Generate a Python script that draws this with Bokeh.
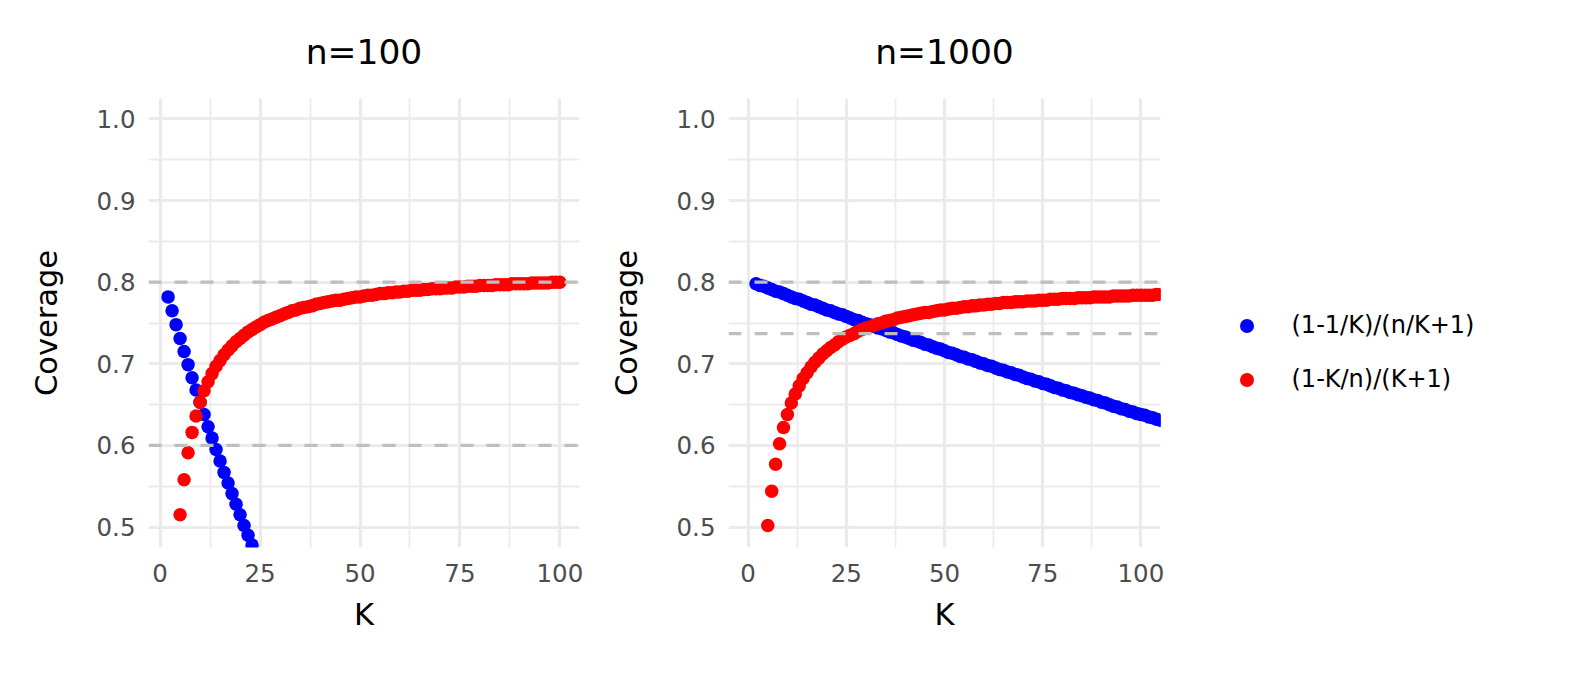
from bokeh.plotting import figure
from bokeh.layouts import row
from bokeh.models import (Range1d, FixedTicker, PrintfTickFormatter, Span,
                          Legend, LegendItem, ColumnDataSource)
from bokeh.embed import file_html
from bokeh.resources import INLINE

# ---------------- data ----------------
panel_titles = ["n=100", "n=1000"]
series_labels = ["(1-1/K)/(n/K+1)", "(1-K/n)/(K+1)"]
series_colors = ["#0000FF", "#FF0000"]

x_ticks = [0, 25, 50, 75, 100]
x_minor_ticks = [12.5, 37.5, 62.5, 87.5]
y_ticks = [0.5, 0.6, 0.7, 0.8, 0.9, 1.0]
y_minor_ticks = [0.55, 0.65, 0.75, 0.85, 0.95]

# n = 100
K_blue_100 = list(range(2, 26))
cov_blue_100 = [0.782, 0.765, 0.748, 0.731, 0.715, 0.699, 0.683, 0.668, 0.653, 0.638,
                0.623, 0.609, 0.595, 0.581, 0.567, 0.554, 0.541, 0.528, 0.515, 0.502,
                0.490, 0.478, 0.466, 0.454]

K_red_100 = list(range(4, 101))
cov_red_100 = [0.454, 0.515, 0.558, 0.591, 0.616, 0.636, 0.653, 0.667, 0.678, 0.688,
               0.697, 0.704, 0.711, 0.717, 0.722, 0.727, 0.731, 0.735, 0.739, 0.742,
               0.745, 0.748, 0.751, 0.753, 0.755, 0.757, 0.759, 0.761, 0.763, 0.765,
               0.766, 0.768, 0.769, 0.770, 0.771, 0.773, 0.774, 0.775, 0.776, 0.777,
               0.778, 0.778, 0.779, 0.780, 0.781, 0.782, 0.782, 0.783, 0.784, 0.784,
               0.785, 0.786, 0.786, 0.787, 0.787, 0.788, 0.788, 0.789, 0.789, 0.790,
               0.790, 0.790, 0.791, 0.791, 0.792, 0.792, 0.792, 0.793, 0.793, 0.793,
               0.794, 0.794, 0.794, 0.795, 0.795, 0.795, 0.796, 0.796, 0.796, 0.796,
               0.797, 0.797, 0.797, 0.797, 0.798, 0.798, 0.798, 0.798, 0.798, 0.799,
               0.799, 0.799, 0.799, 0.799, 0.800, 0.800, 0.800]

# n = 1000
K_blue_1000 = list(range(2, 108))
cov_blue_1000 = [0.798, 0.796, 0.795, 0.793, 0.791, 0.789, 0.788, 0.786, 0.784, 0.782,
                 0.780, 0.779, 0.777, 0.775, 0.773, 0.772, 0.770, 0.768, 0.766, 0.765,
                 0.763, 0.761, 0.760, 0.758, 0.756, 0.754, 0.753, 0.751, 0.749, 0.748,
                 0.746, 0.744, 0.743, 0.741, 0.739, 0.738, 0.736, 0.734, 0.733, 0.731,
                 0.729, 0.728, 0.726, 0.724, 0.723, 0.721, 0.719, 0.718, 0.716, 0.714,
                 0.713, 0.711, 0.709, 0.708, 0.706, 0.705, 0.703, 0.701, 0.700, 0.698,
                 0.697, 0.695, 0.693, 0.692, 0.690, 0.689, 0.687, 0.686, 0.684, 0.682,
                 0.681, 0.679, 0.678, 0.676, 0.675, 0.673, 0.671, 0.670, 0.668, 0.667,
                 0.665, 0.664, 0.662, 0.661, 0.659, 0.658, 0.656, 0.655, 0.653, 0.652,
                 0.650, 0.648, 0.647, 0.645, 0.644, 0.642, 0.641, 0.639, 0.638, 0.637,
                 0.635, 0.634, 0.632, 0.631, 0.629, 0.628]

K_red_1000 = list(range(4, 108))
cov_red_1000 = [0.441, 0.502, 0.544, 0.577, 0.602, 0.622, 0.638, 0.652, 0.663, 0.673,
                0.682, 0.689, 0.696, 0.702, 0.707, 0.712, 0.716, 0.720, 0.723, 0.727,
                0.730, 0.733, 0.735, 0.737, 0.740, 0.742, 0.744, 0.745, 0.747, 0.749,
                0.750, 0.752, 0.753, 0.754, 0.756, 0.757, 0.758, 0.759, 0.760, 0.761,
                0.762, 0.763, 0.763, 0.764, 0.765, 0.766, 0.766, 0.767, 0.768, 0.768,
                0.769, 0.770, 0.770, 0.771, 0.771, 0.772, 0.772, 0.773, 0.773, 0.774,
                0.774, 0.775, 0.775, 0.775, 0.776, 0.776, 0.776, 0.777, 0.777, 0.777,
                0.778, 0.778, 0.778, 0.779, 0.779, 0.779, 0.780, 0.780, 0.780, 0.780,
                0.781, 0.781, 0.781, 0.781, 0.782, 0.782, 0.782, 0.782, 0.782, 0.783,
                0.783, 0.783, 0.783, 0.783, 0.784, 0.784, 0.784, 0.784, 0.784, 0.784,
                0.785, 0.785, 0.785, 0.785]

hlines_100 = [0.8, 0.6]
hlines_1000 = [0.8, 0.737]

x_limits_100 = (-2.9, 104.9)
x_limits_1000 = (-5.0, 105.0)
y_limits = (0.475, 1.025)

# ---------------- styling ----------------
FONT = "DejaVu Sans"
GRID = "#EBEBEB"
TICK_TXT = "#4D4D4D"
HLINE = "#BEBEBE"
PT_SIZE = 13.5


def make_panel(title, xlim, kb, vb, kr, vr, hlines, fw, mbl, mbr):
    p = figure(output_backend="svg", toolbar_location=None,
               x_range=Range1d(*xlim), y_range=Range1d(*y_limits),
               frame_width=fw, frame_height=449,
               min_border_left=mbl, min_border_right=mbr,
               min_border_top=98, min_border_bottom=100,
               background_fill_color="white", border_fill_color="white",
               outline_line_color=None, title=title)
    p.title.align = "center"
    p.title.text_font = FONT
    p.title.text_font_size = "34.5px"
    p.title.text_font_style = "normal"
    p.title.text_color = "black"
    p.title.standoff = 54

    p.xaxis.ticker = FixedTicker(ticks=x_ticks, minor_ticks=x_minor_ticks)
    p.yaxis.ticker = FixedTicker(ticks=y_ticks, minor_ticks=y_minor_ticks)
    p.yaxis.formatter = PrintfTickFormatter(format="%.1f")
    p.xaxis.axis_label = "K"
    p.yaxis.axis_label = "Coverage"
    for ax in (p.xaxis[0], p.yaxis[0]):
        ax.axis_line_color = None
        ax.major_tick_line_color = None
        ax.minor_tick_line_color = None
        ax.major_tick_in = 0
        ax.major_tick_out = 0
        ax.minor_tick_in = 0
        ax.minor_tick_out = 0
        ax.major_label_text_font = FONT
        ax.major_label_text_font_size = "24.5px"
        ax.major_label_text_color = TICK_TXT
        ax.axis_label_text_font = FONT
        ax.axis_label_text_font_size = "30.5px"
        ax.axis_label_text_font_style = "normal"
        ax.axis_label_text_color = "black"
    p.xaxis.major_label_standoff = 16
    p.yaxis.major_label_standoff = 13
    p.xaxis.axis_label_standoff = 12
    p.yaxis.axis_label_standoff = 30

    for g in (p.xgrid[0], p.ygrid[0]):
        g.grid_line_color = GRID
        g.grid_line_width = 3.2
        g.minor_grid_line_color = GRID
        g.minor_grid_line_width = 1.8

    src_b = ColumnDataSource(dict(K=kb, cov=vb))
    src_r = ColumnDataSource(dict(K=kr, cov=vr))
    rb = p.scatter("K", "cov", source=src_b, marker="circle", size=PT_SIZE,
                   fill_color=series_colors[0], line_color=None)
    rr = p.scatter("K", "cov", source=src_r, marker="circle", size=PT_SIZE,
                   fill_color=series_colors[1], line_color=None)

    for v in hlines:
        p.add_layout(Span(location=v, dimension="width", line_color=HLINE,
                          line_width=3.2, line_dash="13 13"))
    return p, rb, rr


p1, _, _ = make_panel(panel_titles[0], x_limits_100, K_blue_100, cov_blue_100,
                      K_red_100, cov_red_100, hlines_100, 431, 148, 9)
p2, rb2, rr2 = make_panel(panel_titles[1], x_limits_1000, K_blue_1000, cov_blue_1000,
                          K_red_1000, cov_red_1000, hlines_1000, 432, 140, 390)

legend = Legend(items=[LegendItem(label=series_labels[0], renderers=[rb2]),
                       LegendItem(label=series_labels[1], renderers=[rr2])],
                location=(68.5, 150.5), orientation="vertical",
                glyph_width=35, glyph_height=35, label_height=35,
                label_standoff=28, spacing=19, padding=0, margin=0,
                border_line_color=None, background_fill_alpha=0,
                label_text_font=FONT, label_text_font_size="24px",
                label_text_color="black")
p2.add_layout(legend, "right")

layout = row(p1, p2)
open("out.html", "w").write(file_html(layout, INLINE))
